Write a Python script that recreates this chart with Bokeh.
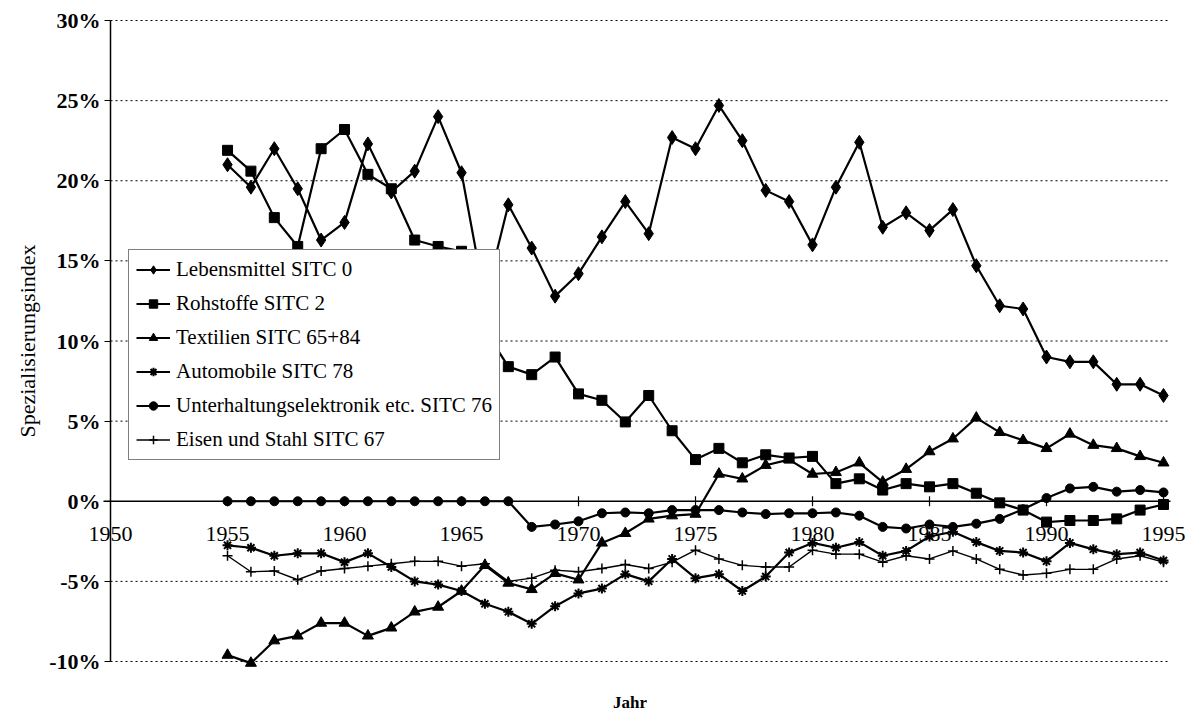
import math
from bokeh.plotting import figure
from bokeh.models import (Range1d, FixedTicker, Legend, LegendItem,
                          ColumnDataSource)
from bokeh.core.properties import value
from bokeh.embed import file_html
from bokeh.resources import INLINE

years = list(range(1955, 1996))

lebensmittel = [21.0, 19.6, 22.0, 19.5, 16.3, 17.4, 22.3, 19.3, 20.6, 24.0,
                20.5, 12.6, 18.5, 15.8, 12.8, 14.2, 16.5, 18.7, 16.7, 22.7,
                22.0, 24.7, 22.5, 19.4, 18.7, 16.0, 19.6, 22.4, 17.1, 18.0,
                16.9, 18.2, 14.7, 12.2, 12.0, 9.0, 8.7, 8.7, 7.3, 7.3, 6.6]
rohstoffe = [21.9, 20.6, 17.7, 15.9, 22.0, 23.2, 20.4, 19.5, 16.3, 15.9,
             15.6, 10.7, 8.4, 7.9, 9.0, 6.7, 6.3, 4.95, 6.6, 4.4,
             2.6, 3.3, 2.4, 2.9, 2.7, 2.8, 1.1, 1.4, 0.7, 1.1,
             0.9, 1.1, 0.5, -0.1, -0.55, -1.3, -1.2, -1.2, -1.1, -0.55, -0.2]
textilien = [-9.6, -10.1, -8.7, -8.4, -7.6, -7.6, -8.4, -7.9, -6.9, -6.6,
             -5.6, -4.0, -5.1, -5.5, -4.5, -4.9, -2.6, -2.0, -1.1, -0.9,
             -0.8, 1.7, 1.4, 2.25, 2.6, 1.7, 1.8, 2.4, 1.2, 2.0,
             3.1, 3.9, 5.2, 4.3, 3.8, 3.3, 4.2, 3.5, 3.3, 2.8, 2.4]
automobile = [-2.75, -2.9, -3.4, -3.25, -3.25, -3.8, -3.25, -4.1, -5.0, -5.2,
              -5.6, -6.4, -6.9, -7.65, -6.55, -5.75, -5.45, -4.55, -5.0, -3.6,
              -4.8, -4.55, -5.6, -4.7, -3.2, -2.6, -2.9, -2.55, -3.4, -3.1,
              -2.2, -1.9, -2.55, -3.1, -3.2, -3.75, -2.6, -3.0, -3.3, -3.2, -3.7]
unterhaltung = [0.0] * 13 + [-1.6, -1.45, -1.25, -0.75, -0.7, -0.75, -0.55,
                             -0.55, -0.55, -0.7, -0.8, -0.75, -0.75, -0.7,
                             -0.9, -1.6, -1.7, -1.45, -1.6, -1.4, -1.1, -0.5,
                             0.2, 0.8, 0.9, 0.6, 0.7, 0.55]
eisen = [-3.4, -4.4, -4.35, -4.9, -4.35, -4.2, -4.05, -3.9, -3.75, -3.75,
         -4.05, -3.9, -5.0, -4.8, -4.3, -4.4, -4.2, -3.95, -4.2, -3.8,
         -3.05, -3.6, -4.0, -4.1, -4.1, -3.05, -3.3, -3.3, -3.8, -3.4,
         -3.6, -3.1, -3.6, -4.25, -4.6, -4.5, -4.25, -4.25, -3.6, -3.4, -3.8]

series_labels = ["Lebensmittel SITC 0", "Rohstoffe SITC 2", "Textilien SITC 65+84",
                 "Automobile SITC 78", "Unterhaltungselektronik etc. SITC 76",
                 "Eisen und Stahl SITC 67"]

x_ticks = [1950, 1955, 1960, 1965, 1970, 1975, 1980, 1985, 1990, 1995]
y_ticks = [-10, -5, 0, 5, 10, 15, 20, 25, 30]
y_tick_labels = ["-10%", "-5%", "0%", "5%", "10%", "15%", "20%", "25%", "30%"]
x_title = "Jahr"
y_title = "Spezialisierungsindex"

SERIF = "Liberation Serif"

X_AXIS_AT = x_ticks[0]     # the y axis stands at 1950
X_GRID_END = 1995.3        # gridlines stop just past 1995
Y_MIN, Y_MAX = y_ticks[0], y_ticks[-1]

# the frame is wider/taller than the axes so that outer labels are not clipped
p = figure(frame_width=1188, frame_height=703,
           x_range=Range1d(1945.64, 1996.41), y_range=Range1d(-13.12, 30.75),
           output_backend="svg", toolbar_location=None,
           min_border_left=8, min_border_top=8, min_border_right=0,
           min_border_bottom=0)
p.outline_line_color = None
p.background_fill_color = "white"
p.border_fill_color = "white"
p.xgrid.visible = False
p.ygrid.visible = False

# dotted horizontal gridlines between the axis and the right end
grid_y = [t for t in y_ticks if t != 0]
p.segment(x0=[X_AXIS_AT] * len(grid_y), y0=grid_y,
          x1=[X_GRID_END] * len(grid_y), y1=grid_y,
          line_color="black", line_width=1, line_dash="2 3")

# y axis pinned at 1950
ya = p.yaxis[0]
ya.fixed_location = X_AXIS_AT
ya.bounds = (Y_MIN, Y_MAX)
ya.ticker = FixedTicker(ticks=y_ticks)
ya.major_label_overrides = {v: s for v, s in zip(y_ticks, y_tick_labels)}
ya.major_label_text_font = SERIF
ya.major_label_text_font_style = "bold"
ya.major_label_text_font_size = "22px"
ya.major_label_text_color = "black"
ya.major_tick_out = 6
ya.major_tick_in = 0
ya.minor_tick_line_color = None
ya.major_label_standoff = 4
ya.axis_line_width = 1.5
ya.axis_line_color = "black"
ya.major_tick_line_color = "black"
ya.axis_label = y_title
ya.axis_label_text_font = SERIF
ya.axis_label_text_font_style = "normal"
ya.axis_label_text_font_size = "22px"
ya.axis_label_text_color = "black"
ya.axis_label_standoff = 6

# year labels: axis pinned just under the zero line
xa = p.xaxis[0]
xa.ticker = FixedTicker(ticks=x_ticks)
xa.fixed_location = -1.25
xa.axis_line_color = None
xa.major_tick_line_color = None
xa.minor_tick_line_color = None
xa.major_tick_out = 0
xa.major_tick_in = 0
xa.major_label_standoff = 6
xa.major_label_text_font = SERIF
xa.major_label_text_font_size = "22px"
xa.major_label_text_color = "black"

# zero line with tick marks
p.segment(x0=[X_AXIS_AT - 0.3], y0=[0], x1=[X_GRID_END], y1=[0],
          line_color="black", line_width=1.5)
p.scatter(x_ticks[1:], [0] * (len(x_ticks) - 1), marker="dash", angle=math.pi / 2,
          size=10, line_color="black", line_width=1.2)

# x axis title
p.text(x=[1972.2], y=[-12.56], text=[x_title], text_font=value(SERIF),
       text_font_style="bold", text_font_size="17px", text_color="black",
       text_align="center", text_baseline="middle")

styles = [
    (lebensmittel, "diamond", 14, 2.2, 1.0),
    (rohstoffe, "square", 10, 2.2, 1.0),
    (textilien, "triangle", 11, 2.2, 1.0),
    (automobile, "asterisk", 10, 2.2, 2.0),
    (unterhaltung, "circle", 9, 2.2, 1.0),
    (eisen, "cross", 10, 1.4, 1.5),
]

items = []
for (vals, marker, size, lw, mlw), label in zip(styles, series_labels):
    src = ColumnDataSource(dict(x=years, y=vals))
    lr = p.line("x", "y", source=src, line_color="black", line_width=lw)
    sr = p.scatter("x", "y", source=src, marker=marker, size=size,
                   fill_color="black", line_color="black", line_width=mlw)
    items.append(LegendItem(label=label, renderers=[lr, sr]))

legend = Legend(items=items, location=(120, 251),
                border_line_color="black", border_line_width=1,
                background_fill_color="white", background_fill_alpha=1.0,
                label_text_font=SERIF, label_text_font_size="21px",
                label_text_color="black",
                glyph_width=34, glyph_height=21, label_height=21,
                spacing=9, padding=7, margin=0, label_standoff=6)
p.add_layout(legend)

open("out.html", "w").write(file_html(p, INLINE))
